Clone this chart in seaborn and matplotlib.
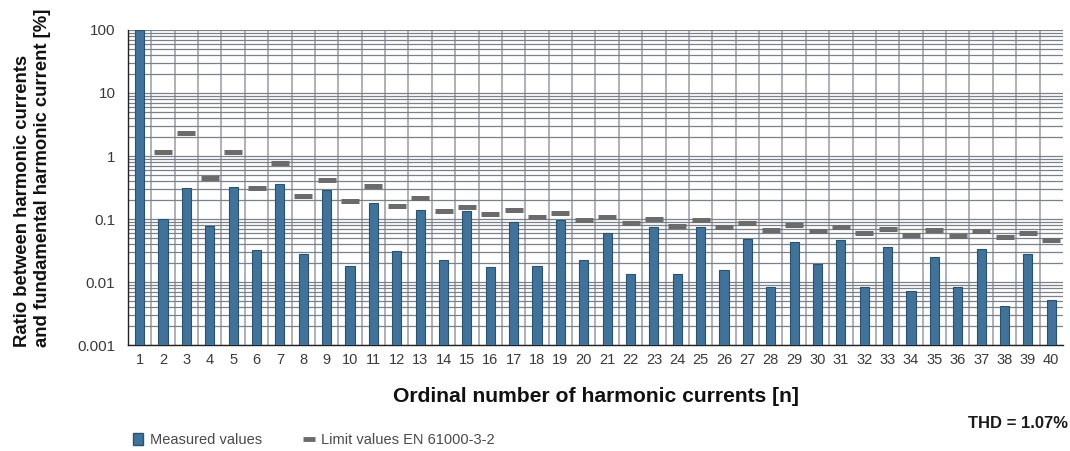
import matplotlib
matplotlib.use("Agg")
import matplotlib.pyplot as plt
from matplotlib.patches import Patch
from matplotlib.lines import Line2D
from matplotlib.ticker import LogLocator, FixedLocator, NullFormatter
import seaborn as sns
import pandas as pd

# harmonic order 1..40
harmonics = list(range(1, 41))

# measured ratio to fundamental [%]
measured = [
    100, 0.10, 0.305, 0.078, 0.32, 0.032, 0.36, 0.028, 0.29, 0.018,
    0.18, 0.031, 0.14, 0.022, 0.134, 0.017, 0.090, 0.018, 0.097, 0.022,
    0.060, 0.0135, 0.074, 0.0135, 0.074, 0.0153, 0.048, 0.0083, 0.043, 0.0195,
    0.047, 0.0083, 0.036, 0.0072, 0.025, 0.0083, 0.034, 0.0042, 0.028, 0.0051,
]

# limit values EN 61000-3-2 (no limit for the fundamental)
limits = [
    None, 1.15, 2.35, 0.44, 1.17, 0.31, 0.78, 0.235, 0.42, 0.19,
    0.34, 0.158, 0.215, 0.136, 0.156, 0.121, 0.138, 0.108, 0.125, 0.096,
    0.109, 0.087, 0.100, 0.078, 0.096, 0.074, 0.087, 0.067, 0.080, 0.064,
    0.075, 0.060, 0.070, 0.056, 0.066, 0.053, 0.064, 0.051, 0.061, 0.047,
]

df = pd.DataFrame({"n": harmonics, "measured": measured, "limit": limits})
lim_df = df.dropna(subset=["limit"])

BAR_COLOR = "#41739a"
BAR_EDGE = "#2a526e"
LIMIT_COLOR = "#6b6b6b"

sns.set_style("white")
plt.rcParams["font.family"] = ["Liberation Sans", "DejaVu Sans"]

fig = plt.figure(figsize=(10.7, 4.51), dpi=100)
ax = fig.add_axes([0.1196, 0.235, 0.8738, 0.6985])

sns.barplot(data=df, x="n", y="measured", native_scale=True, width=0.39,
            color=BAR_COLOR, edgecolor=BAR_EDGE, linewidth=0.8,
            saturation=1, log_scale=(False, True), ax=ax, zorder=3)
sns.scatterplot(data=lim_df, x="n", y="limit", marker="_", s=175,
                linewidth=3.6, color=LIMIT_COLOR, ax=ax, zorder=4,
                legend=False)

ax.set_yscale("log")
ax.set_ylim(0.001, 100)
ax.set_xlim(0.5, 40.5)

# y axis: decades labelled, minor grid at 2..9
ax.yaxis.set_major_locator(FixedLocator([0.001, 0.01, 0.1, 1, 10, 100]))
ax.set_yticklabels(["0.001", "0.01", "0.1", "1", "10", "100"])
ax.yaxis.set_minor_locator(LogLocator(base=10, subs=range(2, 10)))
ax.yaxis.set_minor_formatter(NullFormatter())

# x axis: labels at bar centers, ticks and grid between bars
ax.set_xticks(harmonics)
ax.set_xticklabels([str(h) for h in harmonics])
ax.xaxis.set_minor_locator(FixedLocator([h + 0.5 for h in harmonics[:-1]] + [0.5]))

ax.grid(False)
ax.grid(axis="y", which="both", color="#7c8189", linewidth=0.9, zorder=0)
ax.grid(axis="x", which="minor", color="#a7abb1", linewidth=1.3, zorder=0)
ax.set_axisbelow(True)

ax.tick_params(axis="x", which="major", length=0, labelsize=10.5,
               labelcolor="#3a3a3a", pad=6)
ax.tick_params(axis="x", which="minor", length=5, width=0.9, color="#222222",
               direction="out")
ax.tick_params(axis="y", which="major", length=5, width=0.9, color="#222222",
               labelsize=11, labelcolor="#3a3a3a", pad=4)
ax.tick_params(axis="y", which="minor", length=0)

for side in ("top", "right"):
    ax.spines[side].set_visible(False)
for side in ("left", "bottom"):
    ax.spines[side].set_color("#222222")
    ax.spines[side].set_linewidth(1.0)

ax.set_xlabel("")
ax.set_ylabel("")

fig.text(0.0305, 0.2306,
         "Ratio between harmonic currents\nand fundamental harmonic current [%]",
         rotation=90, ha="center", va="bottom", fontsize=13.3,
         fontweight="bold", color="#111111", multialignment="left",
         linespacing=1.28)
fig.text(0.557, 0.12, "Ordinal number of harmonic currents [n]",
         ha="center", va="center", fontsize=15.2, fontweight="bold",
         color="#111111")
fig.text(0.998, 0.062, "THD = 1.07%", ha="right", va="center",
         fontsize=12, fontweight="bold", color="#1a1a1a")

handles = [
    Patch(facecolor=BAR_COLOR, edgecolor=BAR_EDGE),
    Line2D([], [], ls="none", marker="_", markersize=9, mew=3.5,
           color=LIMIT_COLOR),
]
fig.legend(handles, ["Measured values", "Limit values EN 61000-3-2"],
           loc="center left", bbox_to_anchor=(0.112, 0.024), ncol=2,
           frameon=False, fontsize=10.5, handlelength=0.7, handleheight=0.9,
           handletextpad=0.45, columnspacing=2.9, labelcolor="#4a4a4a")

fig.savefig("out.png", dpi=100)
plt.close(fig)
